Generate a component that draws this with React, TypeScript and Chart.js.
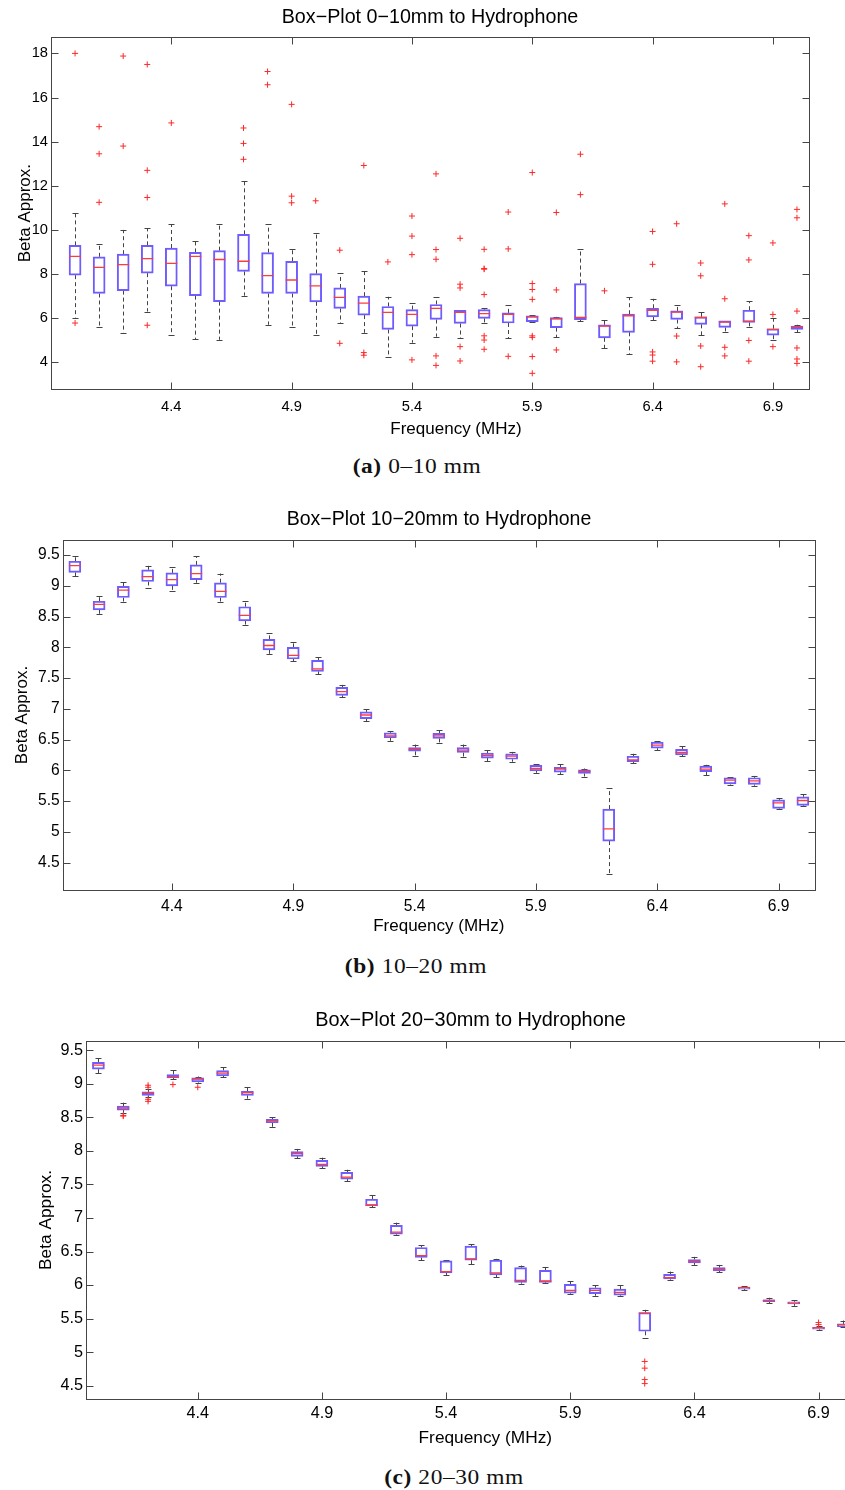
import React, { useEffect, useRef } from 'react';
import { Chart, registerables } from 'chart.js';

Chart.register(...registerables);

// ---------------- data ----------------
const frequencies = [4.0, 4.1, 4.2, 4.3, 4.4, 4.5, 4.6, 4.7, 4.8, 4.9, 5.0, 5.1, 5.2, 5.3, 5.4, 5.5, 5.6, 5.7, 5.8, 5.9, 6.0, 6.1, 6.2, 6.3, 6.4, 6.5, 6.6, 6.7, 6.8, 6.9, 7.0];
const xTickValues = [4.4, 4.9, 5.4, 5.9, 6.4, 6.9];
const xTickLabels = ['4.4', '4.9', '5.4', '5.9', '6.4', '6.9'];
const xAxisLabel = 'Frequency (MHz)';
const yAxisLabel = 'Beta Approx.';

// Panel (a) 0-10 mm
const aTitle = 'Box\u2212Plot 0\u221210mm to Hydrophone';
const aCaptionTag = '(a)';
const aCaptionText = '0\u201310 mm';
const aYTickValues = [4, 6, 8, 10, 12, 14, 16, 18];
const aYTickLabels = ['4', '6', '8', '10', '12', '14', '16', '18'];
const aLow = [6.03, 5.58, 5.34, 6.30, 5.25, 5.04, 5.02, 7.02, 5.70, 5.58, 5.25, 5.76, 5.34, 4.26, 4.89, 5.16, 5.08, 5.76, 5.10, 5.84, 5.13, 5.87, 4.63, 4.36, 5.91, 5.55, 5.22, 5.37, 5.60, 5.01, 5.37];
const aQ1 = [7.95, 7.12, 7.25, 8.04, 7.45, 7.02, 6.75, 8.12, 7.12, 7.12, 6.74, 6.44, 6.14, 5.49, 5.64, 5.94, 5.76, 5.99, 5.78, 5.84, 5.57, 5.93, 5.11, 5.36, 6.06, 5.94, 5.72, 5.58, 5.81, 5.23, 5.49];
const aMed = [8.80, 8.30, 8.43, 8.70, 8.48, 8.80, 8.66, 8.58, 7.93, 7.73, 7.46, 6.94, 6.68, 6.26, 6.17, 6.44, 6.26, 6.21, 6.17, 6.06, 5.97, 6.03, 5.64, 6.11, 6.36, 6.27, 6.03, 5.82, 5.87, 5.49, 5.61];
const aQ3 = [9.30, 8.78, 8.90, 9.30, 9.18, 8.98, 9.06, 9.80, 8.97, 8.58, 8.02, 7.37, 7.00, 6.53, 6.39, 6.62, 6.35, 6.39, 6.24, 6.11, 6.03, 7.57, 5.70, 6.18, 6.45, 6.33, 6.06, 5.88, 6.36, 5.52, 5.64];
const aHigh = [10.75, 9.36, 10.0, 10.08, 10.25, 9.48, 10.25, 12.22, 10.25, 9.15, 9.84, 8.04, 8.14, 6.97, 6.68, 6.94, 6.35, 6.44, 6.58, 6.14, 6.06, 9.12, 5.93, 6.94, 6.88, 6.59, 6.29, 5.88, 6.77, 5.99, 5.70];
const aOutliers = [
  [18.0, 5.78], [14.68, 13.45, 11.25], [17.88, 13.8], [17.5, 12.7, 11.47, 5.68], [14.85], [], [],
  [14.62, 13.92, 13.2], [17.18, 16.58], [15.69, 11.53, 11.23], [11.32], [9.08, 4.86], [12.92, 4.44, 4.32],
  [8.55], [10.63, 9.72, 8.88, 4.11], [12.54, 9.11, 8.67, 4.29, 3.86], [9.62, 7.54, 7.37, 4.71, 4.06],
  [9.12, 8.25, 8.22, 7.07, 5.2, 5.01, 4.59], [10.81, 9.14, 4.27], [12.6, 7.57, 7.3, 6.85, 5.2, 5.13, 4.26, 3.5],
  [10.79, 7.28, 4.56], [13.43, 11.6], [7.24], [], [9.93, 8.44, 4.47, 4.33, 4.05], [10.28, 5.19, 4.02],
  [8.5, 7.92, 4.74, 3.8], [11.18, 6.88, 4.68, 4.29], [9.74, 8.64, 4.99, 4.05], [9.41, 6.17, 4.71],
  [10.93, 10.55, 6.32, 4.65, 4.15, 3.95],
];

// Panel (b) 10-20 mm
const bTitle = 'Box\u2212Plot 10\u221220mm to Hydrophone';
const bCaptionTag = '(b)';
const bCaptionText = '10\u201320 mm';
const bYTickValues = [4.5, 5, 5.5, 6, 6.5, 7, 7.5, 8, 8.5, 9, 9.5];
const bYTickLabels = ['4.5', '5', '5.5', '6', '6.5', '7', '7.5', '8', '8.5', '9', '9.5'];
const bLow = [9.16, 8.54, 8.74, 8.97, 8.92, 9.05, 8.74, 8.37, 7.89, 7.77, 7.56, 7.19, 6.80, 6.48, 6.24, 6.44, 6.22, 6.15, 6.14, 5.96, 5.94, 5.90, 4.32, 6.12, 6.33, 6.23, 5.92, 5.77, 5.75, 5.37, 5.42];
const bQ1 = [9.22, 8.61, 8.81, 9.07, 9.00, 9.10, 8.81, 8.43, 7.96, 7.81, 7.61, 7.22, 6.84, 6.53, 6.31, 6.52, 6.29, 6.20, 6.18, 5.99, 5.97, 5.95, 4.85, 6.14, 6.36, 6.25, 5.98, 5.78, 5.77, 5.38, 5.43];
const bMed = [9.33, 8.70, 8.93, 9.15, 9.10, 9.20, 8.91, 8.52, 8.03, 7.87, 7.65, 7.28, 6.90, 6.56, 6.34, 6.56, 6.33, 6.24, 6.23, 6.03, 6.02, 5.98, 5.05, 6.17, 6.41, 6.29, 6.02, 5.84, 5.83, 5.47, 5.51];
const bQ3 = [9.40, 8.75, 8.99, 9.26, 9.21, 9.34, 9.05, 8.66, 8.13, 8.00, 7.79, 7.35, 6.95, 6.61, 6.37, 6.60, 6.37, 6.28, 6.27, 6.08, 6.05, 6.01, 5.37, 6.23, 6.46, 6.34, 6.07, 5.88, 5.88, 5.52, 5.57];
const bHigh = [9.49, 8.83, 9.06, 9.33, 9.30, 9.48, 9.20, 8.76, 8.24, 8.09, 7.84, 7.39, 6.99, 6.64, 6.42, 6.65, 6.42, 6.33, 6.30, 6.10, 6.10, 6.03, 5.71, 6.27, 6.47, 6.39, 6.09, 5.89, 5.91, 5.55, 5.61];
const bOutliers = frequencies.map(() => [] as number[]);

// Panel (c) 20-30 mm
const cTitle = 'Box\u2212Plot 20\u221230mm to Hydrophone';
const cCaptionTag = '(c)';
const cCaptionText = '20\u201330 mm';
const cYTickValues = [4.5, 5, 5.5, 6, 6.5, 7, 7.5, 8, 8.5, 9, 9.5];
const cYTickLabels = ['4.5', '5', '5.5', '6', '6.5', '7', '7.5', '8', '8.5', '9', '9.5'];
const cLow = [9.16, 8.57, 8.80, 9.07, 9.02, 9.10, 8.78, 8.36, 7.89, 7.74, 7.55, 7.16, 6.75, 6.37, 6.15, 6.31, 6.12, 6.02, 6.03, 5.87, 5.84, 5.84, 5.21, 6.08, 6.30, 6.19, 5.92, 5.73, 5.69, 5.33, 5.37];
const cQ1 = [9.22, 8.61, 8.83, 9.09, 9.03, 9.12, 8.83, 8.42, 7.92, 7.77, 7.58, 7.18, 6.76, 6.41, 6.18, 6.37, 6.15, 6.04, 6.04, 5.88, 5.87, 5.85, 5.31, 6.09, 6.33, 6.21, 5.94, 5.75, 5.72, 5.34, 5.38];
const cMed = [9.28, 8.64, 8.86, 9.11, 9.07, 9.16, 8.87, 8.45, 7.96, 7.80, 7.61, 7.19, 6.79, 6.44, 6.20, 6.39, 6.18, 6.07, 6.06, 5.92, 5.92, 5.89, 5.58, 6.11, 6.35, 6.23, 5.96, 5.77, 5.73, 5.36, 5.41];
const cQ3 = [9.32, 8.67, 8.88, 9.14, 9.09, 9.20, 8.89, 8.47, 7.99, 7.86, 7.68, 7.28, 6.89, 6.56, 6.36, 6.58, 6.37, 6.26, 6.22, 6.01, 5.96, 5.94, 5.59, 6.16, 6.38, 6.26, 5.97, 5.78, 5.75, 5.37, 5.42];
const cHigh = [9.39, 8.72, 8.92, 9.20, 9.11, 9.25, 8.95, 8.50, 8.03, 7.90, 7.72, 7.34, 6.93, 6.59, 6.37, 6.61, 6.39, 6.29, 6.27, 6.06, 6.00, 6.00, 5.63, 6.20, 6.42, 6.30, 5.98, 5.81, 5.77, 5.39, 5.47];
const cOutliers = [
  [], [8.53, 8.52], [8.98, 8.95, 8.77, 8.74], [8.99], [8.95], [], [], [], [], [], [], [], [], [], [], [],
  [], [], [], [], [], [], [4.86, 4.76, 4.59, 4.53], [], [], [], [], [], [], [5.44, 5.41], [],
];

// ---------------- layout / style ----------------
const SANS = "'Liberation Sans', Arial, Helvetica, sans-serif";
const SERIF = "'Liberation Serif', 'Times New Roman', serif";
const BOX_COLOR = 'rgb(110, 92, 255)';
const MEDIAN_COLOR = 'rgb(255, 60, 60)';
const OUTLIER_COLOR = 'rgb(255, 40, 40)';
const WHISKER_COLOR = '#444444';
const FRAME_COLOR = '#454545';

interface PanelSpec {
  title: string;
  low: number[]; q1: number[]; med: number[]; q3: number[]; high: number[]; outliers: number[][];
  yTickValues: number[]; yTickLabels: string[];
  xMin: number; xMax: number; yMin: number; yMax: number;
  plotLeft: number; plotRight: number; plotTop: number; plotBottom: number;
  titleCenterX: number; titleCenterY: number; titleSize: number;
  tickSize: number; axisTitleSize: number;
  xTickCenter: number; xLabelCenter: number; yLabelCenterX: number;
  xLabelShift: number;
  boxWidth: number;
  captionTag: string; captionText: string; captionX: number; captionY: number;
}

const panels: PanelSpec[] = [
  {
    title: aTitle, low: aLow, q1: aQ1, med: aMed, q3: aQ3, high: aHigh, outliers: aOutliers,
    yTickValues: aYTickValues, yTickLabels: aYTickLabels,
    xMin: 3.9, xMax: 7.05, yMin: 2.79, yMax: 18.73,
    plotLeft: 51, plotRight: 809, plotTop: 37.3, plotBottom: 389,
    titleCenterX: 430, titleCenterY: 17.5, titleSize: 19.7,
    tickSize: 14.7, axisTitleSize: 17,
    xTickCenter: 18, xLabelCenter: 40.5, yLabelCenterX: 25.3,
    xLabelShift: 11,
    boxWidth: 12,
    captionTag: aCaptionTag, captionText: aCaptionText, captionX: 416.5, captionY: 466,
  },
  {
    title: bTitle, low: bLow, q1: bQ1, med: bMed, q3: bQ3, high: bHigh, outliers: bOutliers,
    yTickValues: bYTickValues, yTickLabels: bYTickLabels,
    xMin: 3.95, xMax: 7.05, yMin: 4.05, yMax: 9.75,
    plotLeft: 62.7, plotRight: 815, plotTop: 539.7, plotBottom: 890.3,
    titleCenterX: 439, titleCenterY: 520, titleSize: 19.5,
    tickSize: 15.6, axisTitleSize: 17,
    xTickCenter: 16, xLabelCenter: 36, yLabelCenterX: 22,
    xLabelShift: 0,
    boxWidth: 12,
    captionTag: bCaptionTag, captionText: bCaptionText, captionX: 416, captionY: 966,
  },
  {
    title: cTitle, low: cLow, q1: cQ1, med: cMed, q3: cQ3, high: cHigh, outliers: cOutliers,
    yTickValues: cYTickValues, yTickLabels: cYTickLabels,
    xMin: 3.95, xMax: 7.05, yMin: 4.3, yMax: 9.64,
    plotLeft: 86, plotRight: 855.8, plotTop: 1041, plotBottom: 1399,
    titleCenterX: 470.5, titleCenterY: 1021, titleSize: 19.9,
    tickSize: 16.2, axisTitleSize: 17.3,
    xTickCenter: 15, xLabelCenter: 39, yLabelCenterX: 46,
    xLabelShift: 6,
    boxWidth: 12,
    captionTag: cCaptionTag, captionText: cCaptionText, captionX: 454, captionY: 1477,
  },
];

function geometry(p: PanelSpec) {
  const canvasTop = Math.floor(p.plotTop) - 40;
  const titleBlock = p.plotTop - canvasTop;
  const titleLH = p.titleSize * 1.2;
  const titlePadTop = p.titleCenterY - canvasTop - titleLH / 2;
  const titlePadBottom = titleBlock - titlePadTop - titleLH;
  const tickLH = p.tickSize * 1.2;
  const axisLH = p.axisTitleSize * 1.2;
  const xAxisH = p.xLabelCenter + axisLH / 2;
  const plotH = p.plotBottom - p.plotTop;
  const height = Math.ceil(titleBlock + plotH + xAxisH + 1);
  const padBottom = height - (titleBlock + plotH + xAxisH);
  const width = Math.round(2 * p.titleCenterX);
  const rightW = width - p.plotRight;
  return {
    canvasTop, titleBlock, titleLH, titlePadTop, titlePadBottom, tickLH, axisLH,
    xAxisH, height, padBottom, width, rightW,
    xTickPad: p.xTickCenter - tickLH / 2,
    yTitlePad: p.yLabelCenterX - axisLH / 2,
  };
}

function makeChart(canvas: HTMLCanvasElement, p: PanelSpec) {
  const g = geometry(p);
  const font = (size: number) => ({ family: SANS, size, weight: 'normal' as const, lineHeight: 1.2 });

  const boxData = frequencies.map((f, i) => ({ x: f, y: [p.q1[i], p.q3[i]] }));
  const medianData = frequencies.map((f, i) => ({ x: f, y: p.med[i] }));
  const outlierData: { x: number; y: number }[] = [];
  frequencies.forEach((f, i) => p.outliers[i].forEach((v) => outlierData.push({ x: f, y: v })));

  const whiskers = {
    id: 'whiskers',
    beforeDatasetsDraw(chart: any) {
      const { ctx, chartArea, scales } = chart;
      const xs = scales.x;
      const ys = scales.y;
      ctx.save();
      ctx.beginPath();
      ctx.rect(chartArea.left, chartArea.top, chartArea.right - chartArea.left, chartArea.bottom - chartArea.top);
      ctx.clip();
      ctx.strokeStyle = WHISKER_COLOR;
      ctx.lineWidth = 1;
      const cap = p.boxWidth / 4;
      frequencies.forEach((f, i) => {
        const px = Math.round(xs.getPixelForValue(f)) + 0.5;
        const yLo = ys.getPixelForValue(p.low[i]);
        const yQ1 = ys.getPixelForValue(p.q1[i]);
        const yQ3 = ys.getPixelForValue(p.q3[i]);
        const yHi = ys.getPixelForValue(p.high[i]);
        ctx.setLineDash([4, 3]);
        ctx.beginPath();
        ctx.moveTo(px, yQ3);
        ctx.lineTo(px, yHi);
        ctx.moveTo(px, yQ1);
        ctx.lineTo(px, yLo);
        ctx.stroke();
        ctx.setLineDash([]);
        ctx.beginPath();
        ctx.moveTo(px - cap, Math.round(yHi) + 0.5);
        ctx.lineTo(px + cap, Math.round(yHi) + 0.5);
        ctx.moveTo(px - cap, Math.round(yLo) + 0.5);
        ctx.lineTo(px + cap, Math.round(yLo) + 0.5);
        ctx.stroke();
      });
      ctx.restore();
    },
  };

  const frame = {
    id: 'frame',
    afterDraw(chart: any) {
      const { ctx, chartArea, scales } = chart;
      const l = Math.round(chartArea.left) + 0.5;
      const r = Math.round(chartArea.right) + 0.5;
      const t = Math.round(chartArea.top) + 0.5;
      const b = Math.round(chartArea.bottom) + 0.5;
      ctx.save();
      ctx.strokeStyle = FRAME_COLOR;
      ctx.lineWidth = 1;
      ctx.strokeRect(l, t, r - l, b - t);
      const tick = 7;
      ctx.beginPath();
      xTickValues.forEach((v) => {
        const px = Math.round(scales.x.getPixelForValue(v)) + 0.5;
        ctx.moveTo(px, b);
        ctx.lineTo(px, b - tick);
        ctx.moveTo(px, t);
        ctx.lineTo(px, t + tick);
      });
      p.yTickValues.forEach((v) => {
        const py = Math.round(scales.y.getPixelForValue(v)) + 0.5;
        ctx.moveTo(l, py);
        ctx.lineTo(l + tick, py);
        ctx.moveTo(r, py);
        ctx.lineTo(r - tick, py);
      });
      ctx.stroke();
      ctx.restore();
    },
  };

  return new Chart(canvas, {
    type: 'bar',
    data: {
      datasets: [
        {
          type: 'scatter',
          label: 'Outliers',
          data: outlierData,
          pointStyle: 'cross',
          pointRadius: 3,
          pointBorderColor: OUTLIER_COLOR,
          pointBorderWidth: 1,
          borderColor: OUTLIER_COLOR,
          order: 1,
        } as any,
        {
          type: 'scatter',
          label: 'Median',
          data: medianData,
          pointStyle: 'line',
          pointRadius: p.boxWidth / 2,
          pointBorderColor: MEDIAN_COLOR,
          pointBorderWidth: 1.3,
          borderColor: MEDIAN_COLOR,
          order: 2,
        } as any,
        {
          type: 'bar',
          label: 'Box',
          data: boxData as any,
          backgroundColor: 'rgba(255,255,255,0)',
          borderColor: BOX_COLOR,
          borderWidth: 1.3,
          borderSkipped: false,
          barThickness: p.boxWidth,
          order: 3,
        } as any,
      ],
    },
    options: {
      animation: false,
      responsive: false,
      maintainAspectRatio: false,
      devicePixelRatio: 1,
      events: [],
      layout: { autoPadding: false, padding: { left: 0, right: 0, top: 0, bottom: g.padBottom } },
      plugins: {
        legend: { display: false },
        tooltip: { enabled: false },
        title: {
          display: true,
          text: p.title,
          color: '#000',
          font: font(p.titleSize),
          padding: { top: g.titlePadTop, bottom: g.titlePadBottom },
        },
      },
      scales: {
        x: {
          type: 'linear',
          min: p.xMin,
          max: p.xMax,
          offset: false,
          afterBuildTicks: (s: any) => { s.ticks = xTickValues.map((v) => ({ value: v })); },
          afterFit: (s: any) => { s.height = g.xAxisH; },
          grid: { display: false, drawTicks: false },
          border: { display: false },
          ticks: {
            color: '#000',
            font: font(p.tickSize),
            padding: g.xTickPad,
            autoSkip: false,
            maxRotation: 0,
            callback: (_v: any, i: number) => xTickLabels[i],
          },
          title: {
            display: true,
            text: '\u00A0'.repeat(p.xLabelShift) + xAxisLabel,
            color: '#000',
            font: font(p.axisTitleSize),
            padding: 0,
          },
        },
        y: {
          type: 'linear',
          position: 'left',
          min: p.yMin,
          max: p.yMax,
          afterBuildTicks: (s: any) => { s.ticks = p.yTickValues.map((v) => ({ value: v })); },
          afterFit: (s: any) => { s.width = p.plotLeft; },
          grid: { display: false, drawTicks: false },
          border: { display: false },
          ticks: {
            color: '#000',
            font: font(p.tickSize),
            padding: 3,
            autoSkip: false,
            callback: (_v: any, i: number) => p.yTickLabels[i],
          },
          title: {
            display: true,
            text: yAxisLabel,
            color: '#000',
            font: font(p.axisTitleSize),
            padding: { top: g.yTitlePad, bottom: 0 },
          },
        },
        yRight: {
          type: 'linear',
          position: 'right',
          display: true,
          afterFit: (s: any) => { s.width = g.rightW; },
          grid: { display: false, drawTicks: false },
          border: { display: false },
          ticks: { display: false },
        },
      },
    } as any,
    plugins: [whiskers, frame],
  });
}

function Panel({ spec }: { spec: PanelSpec }) {
  const ref = useRef<HTMLCanvasElement>(null);
  const g = geometry(spec);
  useEffect(() => {
    if (!ref.current) return;
    const chart = makeChart(ref.current, spec);
    return () => chart.destroy();
  }, [spec]);
  return (
    <canvas
      ref={ref}
      width={g.width}
      height={g.height}
      style={{ position: 'absolute', left: 0, top: g.canvasTop, width: g.width, height: g.height }}
    />
  );
}

function Caption({ spec }: { spec: PanelSpec }) {
  const fs = 20;
  return (
    <div
      style={{
        position: 'absolute',
        left: spec.captionX - 200,
        width: 400,
        top: spec.captionY - fs / 2,
        textAlign: 'center',
        fontFamily: SERIF,
        fontSize: fs,
        lineHeight: `${fs}px`,
        letterSpacing: 0.5,
        color: '#111',
        whiteSpace: 'nowrap',
        transform: 'scaleX(1.17)',
      }}
    >
      <b>{spec.captionTag}</b> {spec.captionText}
    </div>
  );
}

export default function App() {
  return (
    <div
      style={{
        position: 'absolute',
        left: 0,
        top: 0,
        width: 845,
        height: 1490,
        overflow: 'hidden',
        background: '#fff',
      }}
    >
      {panels.map((p, i) => (
        <React.Fragment key={i}>
          <Panel spec={p} />
          <Caption spec={p} />
        </React.Fragment>
      ))}
    </div>
  );
}
